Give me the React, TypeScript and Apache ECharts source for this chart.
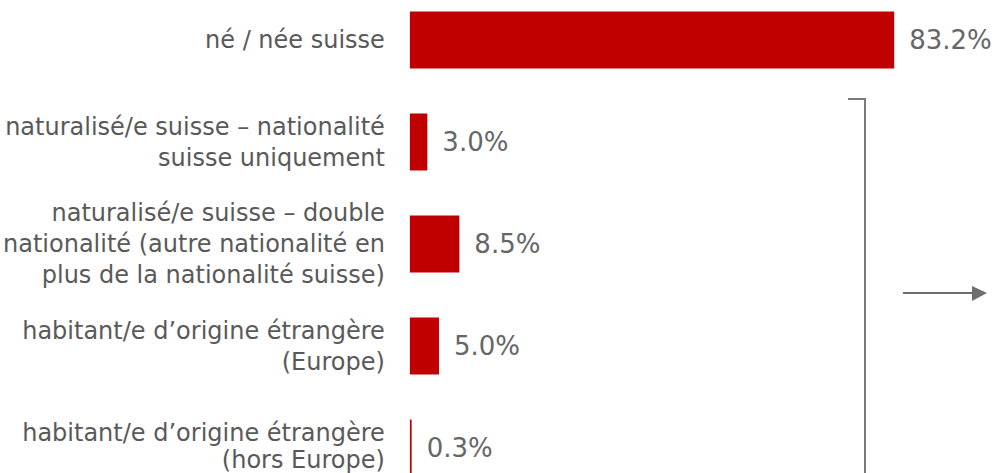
import React, { useEffect, useRef } from "react";
import * as echarts from "echarts";

const categories = [
  "né / née suisse",
  "naturalisé/e suisse – nationalité\nsuisse uniquement",
  "naturalisé/e suisse – double\nnationalité (autre nationalité en\nplus de la nationalité suisse)",
  "habitant/e d’origine étrangère\n(Europe)",
  "habitant/e d’origine étrangère\n(hors Europe)",
];
const values = [83.2, 3.0, 8.5, 5.0, 0.3];

const FONT = "'DejaVu Sans', Verdana, sans-serif";
const OFF = 11;

export default function App() {
  const ref = useRef<HTMLDivElement>(null);
  useEffect(() => {
    if (!ref.current) return;
    const chart = echarts.init(ref.current, null, { renderer: "svg" });
    const labelStyle = {
      color: "#595959",
      fontFamily: FONT,
      fontSize: 24,
      lineHeight: 31,
      align: "right",
    };
    chart.setOption({
      animation: false,
      backgroundColor: "#ffffff",
      grid: { left: 408, top: 0, width: 584, height: 510, containLabel: false },
      xAxis: {
        type: "value",
        min: 0,
        max: 100,
        show: false,
      },
      yAxis: {
        type: "category",
        data: categories,
        inverse: true,
        axisLine: { show: false },
        axisTick: { show: false },
        splitLine: { show: false },
        axisLabel: {
          margin: 25,
          ...labelStyle,
          formatter: (v: string, i: number) => {
            if (i !== categories.length - 1) return v;
            const lines = v.split("\n");
            return lines
              .map((l, k) => (k === lines.length - 1 ? `{p|${l}}` : `{u|${l}}`))
              .join("\n");
          },
          rich: {
            u: { ...labelStyle },
            p: { ...labelStyle, padding: [0, 0, 8, 0] },
          },
        },
      },
      series: [
        {
          type: "bar",
          data: values,
          barWidth: 57,
          itemStyle: { color: "#C00000" },
          label: {
            show: true,
            position: "right",
            distance: 15,
            color: "#666666",
            fontFamily: FONT,
            fontSize: 26,
            formatter: (p: any) => Number(p.value).toFixed(1) + "%",
          },
        },
      ],
      graphic: [
        {
          type: "polyline",
          shape: { points: [[848, 99 + OFF], [865, 99 + OFF], [865, 510]] },
          style: { stroke: "#7a7a7a", lineWidth: 2, fill: null },
        },
        {
          type: "line",
          shape: { x1: 903, y1: 293 + OFF, x2: 975, y2: 293 + OFF },
          style: { stroke: "#6e6e6e", lineWidth: 2 },
        },
        {
          type: "polygon",
          shape: { points: [[972, 286 + OFF], [987, 293 + OFF], [972, 301 + OFF]] },
          style: { fill: "#6e6e6e" },
        },
      ],
    });
    return () => chart.dispose();
  }, []);
  return (
    <div
      style={{
        position: "absolute",
        left: 0,
        top: 0,
        width: 999,
        height: 473,
        overflow: "hidden",
        background: "#fff",
      }}
    >
      <div
        ref={ref}
        style={{ position: "absolute", left: 0, top: -OFF, width: 999, height: 510 }}
      />
    </div>
  );
}
